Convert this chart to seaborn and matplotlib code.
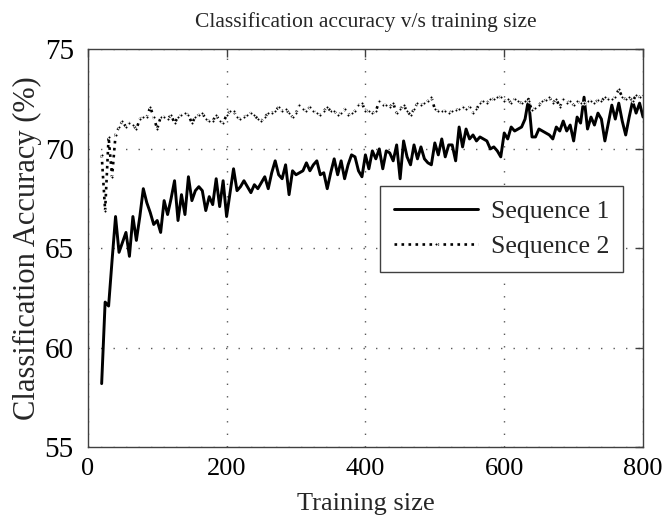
import numpy as np
import pandas as pd
import matplotlib
matplotlib.use("Agg")
import matplotlib.pyplot as plt
import seaborn as sns

# ---- data ----
training_size = list(range(20, 805, 5))

sequence_1 = [
    58.2, 62.3, 62.1, 64.4, 66.6, 64.8, 65.3, 65.8, 64.6, 66.6,   # 20-65
    65.4, 66.6, 68.0, 67.3, 66.8, 66.2, 66.4, 65.8, 67.4, 66.7,   # 70-115
    67.5, 68.4, 66.4, 67.7, 66.7, 68.6, 67.4, 67.9, 68.1, 67.9,   # 120-165
    66.9, 67.6, 67.2, 68.5, 67.1, 68.4, 66.6, 67.8, 69.0, 67.9,   # 170-215
    68.1, 68.4, 68.1, 67.8, 68.2, 68.0, 68.3, 68.6, 68.0, 68.8,   # 220-265
    69.4, 68.7, 68.5, 69.2, 67.7, 68.9, 68.7, 68.8, 68.9, 69.3,   # 270-315
    68.9, 69.2, 69.4, 68.7, 68.8, 68.0, 68.8, 69.5, 68.7, 69.4,   # 320-365
    68.5, 69.2, 69.7, 69.6, 68.9, 68.6, 69.7, 69.0, 69.9, 69.5,   # 370-415
    70.0, 69.0, 69.9, 69.8, 69.4, 70.2, 68.5, 70.4, 69.6, 69.2,   # 420-465
    70.2, 69.5, 70.1, 69.5, 69.3, 69.2, 70.3, 69.7, 70.5, 69.6,   # 470-515
    70.2, 70.2, 69.4, 71.1, 70.1, 71.0, 70.5, 70.7, 70.4, 70.6,   # 520-565
    70.5, 70.4, 70.0, 70.1, 69.9, 69.6, 70.8, 70.5, 71.1, 70.9,   # 570-615
    71.0, 71.1, 71.5, 72.5, 70.6, 70.6, 71.0, 70.9, 70.8, 70.7,   # 620-665
    70.5, 71.1, 70.9, 71.4, 70.9, 71.2, 70.4, 71.6, 71.3, 72.6,   # 670-715
    71.0, 71.6, 71.2, 71.8, 71.5, 70.4, 71.3, 72.2, 71.5, 72.3,   # 720-765
    71.4, 70.7, 71.6, 72.4, 71.8, 72.3, 71.6,                     # 770-800
]

sequence_2 = [
    69.7, 66.9, 70.6, 68.6, 70.7, 71.1, 71.4, 71.1, 71.3, 71.2,   # 20-65
    71.0, 71.5, 71.6, 71.6, 72.1, 71.6, 71.0, 71.6, 71.6, 71.5,   # 70-115
    71.7, 71.3, 71.6, 71.7, 71.8, 71.7, 71.3, 71.6, 71.7, 71.8,   # 120-165
    71.5, 71.4, 71.4, 71.7, 71.4, 71.3, 71.7, 71.9, 71.9, 71.6,   # 170-215
    71.5, 71.6, 71.7, 71.8, 71.7, 71.5, 71.4, 71.6, 71.8, 71.8,   # 220-265
    71.9, 72.1, 71.9, 72.0, 71.8, 71.6, 71.8, 72.2, 72.0, 71.9,   # 270-315
    72.1, 71.9, 71.8, 71.7, 71.9, 72.1, 71.9, 71.9, 71.7, 71.8,   # 320-365
    72.0, 71.7, 71.8, 71.9, 72.2, 72.3, 71.9, 71.9, 71.8, 71.9,   # 370-415
    72.4, 72.2, 72.2, 72.1, 72.3, 71.8, 72.0, 72.2, 71.9, 71.7,   # 420-465
    72.0, 72.3, 72.2, 72.3, 72.4, 72.6, 72.0, 71.9, 71.9, 71.9,   # 470-515
    71.8, 71.9, 71.95, 72.0, 72.1, 72.0, 72.1, 71.8, 72.0, 72.3,  # 520-565
    72.4, 72.3, 72.5, 72.5, 72.6, 72.6, 72.4, 72.5, 72.3, 72.5,   # 570-615
    72.4, 72.3, 72.4, 72.4, 71.95, 72.05, 72.2, 72.4, 72.45, 72.6,  # 620-665
    72.3, 72.5, 72.1, 72.5, 72.3, 72.4, 72.2, 72.4, 72.3, 72.3,   # 670-715
    72.4, 72.4, 72.3, 72.45, 72.4, 72.6, 72.5, 72.5, 72.6, 73.0,  # 720-765
    72.6, 72.5, 72.6, 72.4, 72.7, 72.6, 72.7,                     # 770-800
]

x_ticks = [0, 200, 400, 600, 800]
y_ticks = [55, 60, 65, 70, 75]
series_names = ["Sequence 1", "Sequence 2"]

df = pd.DataFrame({
    "Training size": training_size * 2,
    "Accuracy": sequence_1 + sequence_2,
    "Series": [series_names[0]] * len(sequence_1) + [series_names[1]] * len(sequence_2),
})

sns.set_style("white")
plt.rcParams["font.family"] = ["Liberation Serif", "DejaVu Serif"]

fig = plt.figure(figsize=(6.65, 5.15), dpi=100)
ax = fig.add_axes([0.132, 0.1315, 0.835, 0.7725])

sns.lineplot(data=df[df["Series"] == series_names[0]], x="Training size", y="Accuracy",
             ax=ax, color="black", linewidth=2.1, linestyle="-", label=series_names[0])
sns.lineplot(data=df[df["Series"] == series_names[1]], x="Training size", y="Accuracy",
             ax=ax, color="black", linewidth=1.9, linestyle=":", marker=".",
             markersize=4.5, label=series_names[1])

ax.set_xlim(0, 800)
ax.set_ylim(55, 75)
ax.set_xticks(x_ticks)
ax.set_yticks(y_ticks)
ax.set_xticklabels([str(v) for v in x_ticks])
ax.set_yticklabels([str(v) for v in y_ticks])

ax.grid(True, color="0.35", linestyle=(0, (1, 8)), linewidth=1.0)
ax.tick_params(direction="in", length=6, width=1, colors="0.25", labelcolor="black",
               top=True, right=True)
ax.tick_params(axis="x", labelsize=19, pad=8)
ax.tick_params(axis="y", labelsize=21, pad=10)
for sp in ax.spines.values():
    sp.set_visible(True)
    sp.set_color("0.25")
    sp.set_linewidth(1.0)

ax.set_xlabel("Training size", fontsize=19, labelpad=9)
ax.set_ylabel("Classification Accuracy (%)", fontsize=22, labelpad=2)
ax.set_title("Classification accuracy v/s training size", fontsize=15.5, pad=16)

leg = ax.legend(loc="upper right", bbox_to_anchor=(0.964, 0.6565), borderaxespad=0,
                fontsize=18.5, frameon=True, fancybox=False, edgecolor="0.25",
                framealpha=1, handlelength=3.3, handletextpad=0.47, borderpad=0.55,
                labelspacing=0.45, numpoints=1)
leg.get_frame().set_linewidth(1.0)

fig.savefig("out.png", dpi=100)
